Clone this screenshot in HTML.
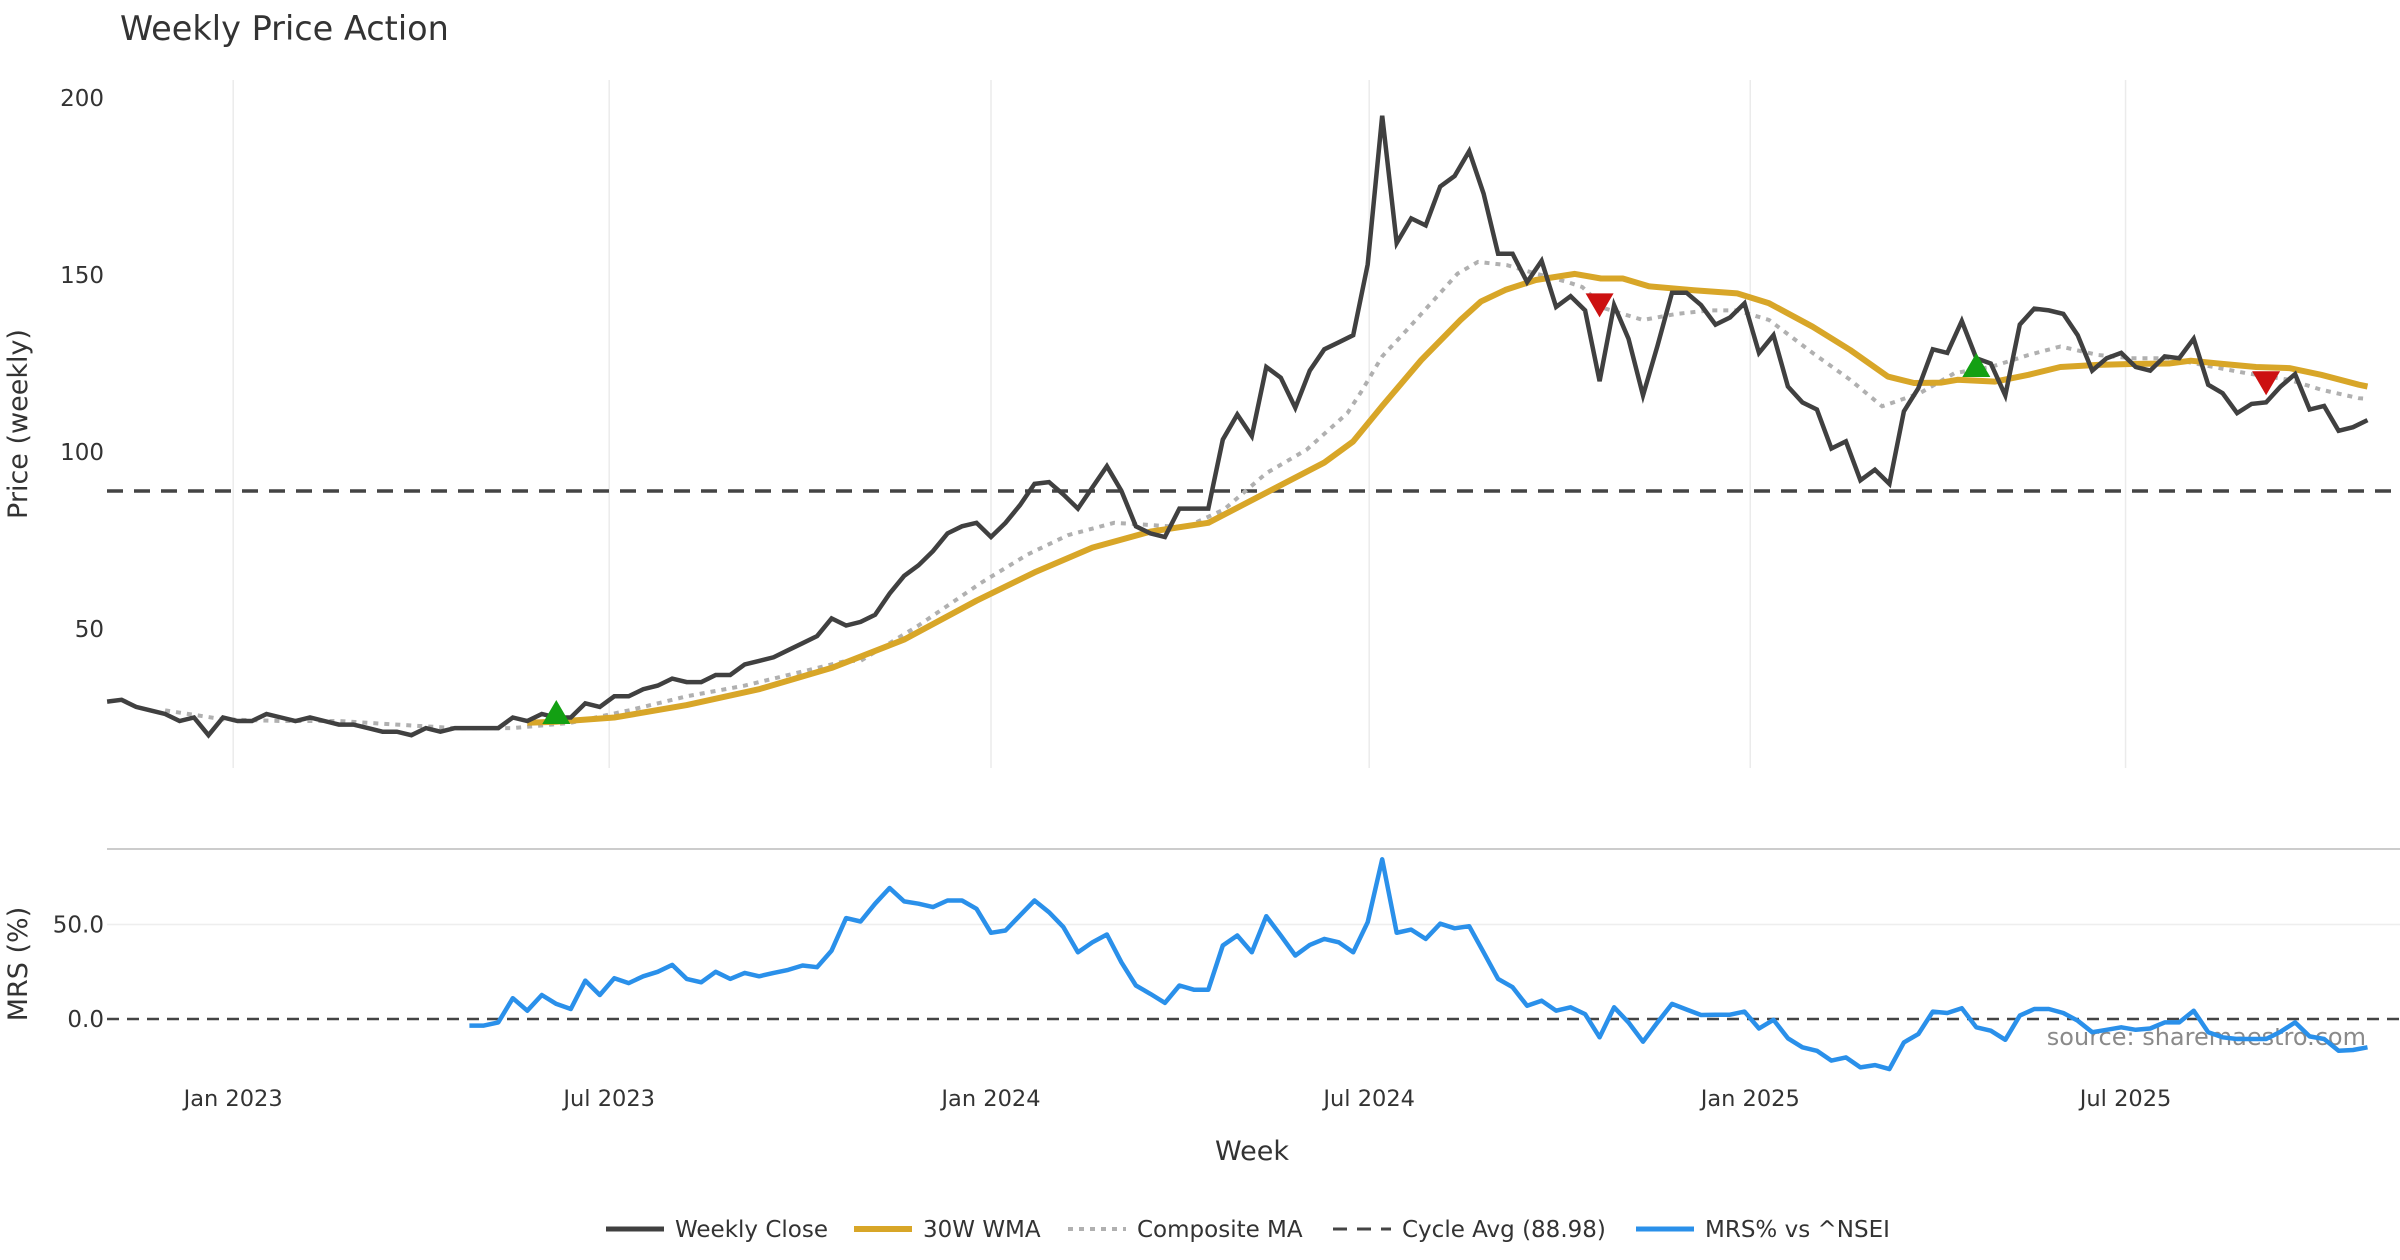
<!DOCTYPE html>
<html><head><meta charset="utf-8"><style>
html,body{margin:0;padding:0;background:#fff;}
svg{display:block;font-family:"DejaVu Sans","Liberation Sans",sans-serif;}
</style></head><body>
<svg id="chart" width="2400" height="1260" viewBox="0 0 2400 1260" xmlns="http://www.w3.org/2000/svg"></svg>
<script>
// ---- data ----
const closeValues=[29.5,30,28,27,26,24,25,20,25,24,24,26,25,24,25,24,23,23,22,21,21,20,22,21,22,22,22,22,25,24,26,25,25,29,28,31,31,33,34,36,35,35,37,37,40,41,42,44,46,48,53,51,52,54,60,65,68,72,77,79,80,76,80,85,91,91.5,88,84,90,96,89,79,77,76,84,84,84,103.5,110.6,104.5,124,121,112.5,123,129,131,133,153,195,159,166,164,175,178,185,173,156,156,148,154,141,144,140,120,141.5,132,116,130,145,145,141.5,136,138,142,128,133,118.5,114,112,101,103,92,95,91,111.5,118,129,128,137,126.5,125,116,136,140.5,140,139,133,123,126.5,128,124,123,127,126.5,132,119,116.6,111,113.6,114,118.5,122,112,113,106,107,109];
const wmaWeeks=[29,31,35,40,45,50,55,60,64,68,72,76,80,84,86,88,90.7,93.4,94.8,96.5,98.6,101.3,103.1,104.6,106.4,109.5,112.5,114.7,117.7,120.3,122.9,124.7,126.6,127.7,130.3,132.6,134.8,137.4,140,142.3,143.8,145.7,148.3,150.6,152.8,155.4,156];
const wmaValues=[23.5,23.8,25,28.5,33,39,47,58,66,73,77.5,80,88.5,97,103,113,126,137.3,142.5,145.8,148.6,150.3,149,149,146.8,145.7,144.8,142,135.4,128.8,121.3,119.5,119.6,120.4,119.9,121.8,124,124.6,124.9,125,125.8,125,124,123.7,121.8,119,118.5];
const compWeeks=[4,8,12,16,20,24,28,32,36,40,44,48,51,52,56,60.3,63.5,66.3,69.5,71.6,74.4,77.1,80,82.8,85.6,86.5,88,89.7,91.8,93.2,94.6,96.6,98.6,100.8,101.8,103.4,106,108.3,110.6,112.5,114.7,117.7,120.3,122.5,125.1,127.5,130,132.6,134.8,137.4,139.7,142.3,144.6,147.6,150.6,152.8,155.4,156];
const compValues=[27,24.5,24,24,23,22,22,23.5,27,31,34,38,41,41,51,63,71,76.5,80,79.5,78.7,83.8,94,100.7,111,116.7,127,134.5,144,150.4,153.7,152.8,150.4,148,146.6,140.5,137.3,139,140,140,137.3,128,120.4,112.9,116.6,122.3,124,127.4,129.8,127.4,126.5,126.5,124.6,122.3,120.4,117.6,115.2,115];
const cycleAvg=88.98;
const buyWeeks=[31,129];
const buyValues=[26,124];
const sellWeeks=[103,149];
const sellValues=[142,120];
const mrsStart=25;
const mrsValues=[-3.5,-3.5,-1.8,11,4.4,12.7,8,5.3,20.3,12.7,21.6,19,22.6,25,28.6,21.2,19.4,25,21.2,24.4,22.6,24.4,26,28.3,27.4,36.2,53.4,51.6,61,69.3,62.2,61,59.2,62.7,62.7,58.3,45.6,46.8,54.8,62.7,56.5,48.6,35.3,40.6,44.7,30,17.7,13.3,8.5,17.7,15.5,15.5,38.9,44.2,35.3,54.4,44.2,33.6,39.2,42.4,40.6,35.3,51.2,84.5,45.6,47.3,42.4,50.4,48,49.1,35.3,21.2,16.8,7,9.7,4.4,6.2,2.6,-9.7,6.2,-1.8,-12,-1.8,8,5,2.1,2.3,2.3,3.9,-5,-0.4,-10.2,-15,-16.8,-22,-20.3,-25.6,-24.4,-26.5,-12.4,-8,3.9,3.2,5.7,-4.4,-6.2,-11,1.8,5.3,5.3,3.2,-0.9,-7,-5.7,-4.4,-5.7,-5,-1.8,-1.8,4.4,-7,-9.7,-10.6,-10.6,-10.6,-6.7,-1.8,-9.2,-10.6,-16.8,-16.4,-15];
const priceTicks=[50,100,150,200];
const mrsTicks=[0,50];
const monthTickWeeks=[8.7,34.65,61,87.1,113.4,139.3];
const monthTickLabels=["Jan 2023","Jul 2023","Jan 2024","Jul 2024","Jan 2025","Jul 2025"];

// ---- scales ----
const NS="http://www.w3.org/2000/svg";
const svg=document.getElementById('chart');
const xW=w=>107.1+14.49*w;
const yP=v=>98+(200-v)*3.54;
const yM=v=>1019-v*1.89;
function el(tag,attrs,parent){const e=document.createElementNS(NS,tag);for(const k in attrs)e.setAttribute(k,attrs[k]);(parent||svg).appendChild(e);return e;}
function txt(s,attrs){const e=el('text',attrs);e.textContent=s;return e;}
function pathFrom(xs,ys){return xs.map((x,i)=>(i?'L':'M')+x.toFixed(1)+' '+ys[i].toFixed(1)).join(' ');}

let t=txt('Weekly Price Action',{x:120,y:40,'font-size':33.5,fill:'#333'});



monthTickWeeks.forEach((w,i)=>{
  const g=el('line',{x1:xW(w),x2:xW(w),y1:80,y2:768,stroke:'#ebebeb','stroke-width':1.5});
  
  
  const l=txt(monthTickLabels[i],{x:xW(w),y:1106,'font-size':22.5,fill:'#333','text-anchor':'middle'});
  
  
});
priceTicks.forEach(v=>{
  const l=txt(String(v),{x:104,y:yP(v)+8,'font-size':23,fill:'#333','text-anchor':'end'});
  
  
});
mrsTicks.forEach(v=>{
  if(v!==0){const g=el('line',{x1:107,x2:2400,y1:yM(v),y2:yM(v),stroke:'#eeeeee','stroke-width':1.5});
  
  }
  const l=txt(v.toFixed(1),{x:104,y:yM(v)+8,'font-size':23,fill:'#333','text-anchor':'end'});
  
  
});
let d=el('line',{x1:107,x2:2400,y1:849,y2:849,stroke:'#cccccc','stroke-width':2});



let ya=txt('Price (weekly)',{x:0,y:0,'font-size':27,fill:'#333','text-anchor':'middle',transform:'translate(27,424) rotate(-90)'});


let ym=txt('MRS (%)',{x:0,y:0,'font-size':27,fill:'#333','text-anchor':'middle',transform:'translate(27,964) rotate(-90)'});


let xa=txt('Week',{x:1252,y:1160,'font-size':27,fill:'#333','text-anchor':'middle'});



let ca=el('line',{x1:107,x2:2400,y1:yP(cycleAvg),y2:yP(cycleAvg),stroke:'#444','stroke-width':3.5,'stroke-dasharray':'16 11'});



let cp=el('path',{d:pathFrom(compWeeks.map(xW),compValues.map(yP)),fill:'none',stroke:'#b0b0b0','stroke-width':4,'stroke-dasharray':'5 6'});


let wp=el('path',{d:pathFrom(wmaWeeks.map(xW),wmaValues.map(yP)),fill:'none',stroke:'#d8a628','stroke-width':6,'stroke-linejoin':'round'});


let cl=el('path',{d:pathFrom(closeValues.map((v,i)=>xW(i)),closeValues.map(yP)),fill:'none',stroke:'#404040','stroke-width':4.5,'stroke-linejoin':'miter'});



buyWeeks.forEach((w,i)=>{
  const x=xW(w),y=yP(buyValues[i]);
  const p=el('polygon',{points:`${x-14},${y+10} ${x+14},${y+10} ${x},${y-14}`,fill:'#13a013'});
  
  
});
sellWeeks.forEach((w,i)=>{
  const x=xW(w),y=yP(sellValues[i]);
  const p=el('polygon',{points:`${x-14},${y-10} ${x+14},${y-10} ${x},${y+14}`,fill:'#cc1111'});
  
  
});

let z=el('line',{x1:107,x2:2400,y1:yM(0),y2:yM(0),stroke:'#444','stroke-width':2.5,'stroke-dasharray':'12 8'});


let src=txt('source: sharemaestro.com',{x:2366,y:1045,'font-size':24,fill:'#8a8a8a','text-anchor':'end'});


let mp=el('path',{d:pathFrom(mrsValues.map((v,i)=>xW(mrsStart+i)),mrsValues.map(yM)),fill:'none',stroke:'#2a90ea','stroke-width':4.5,'stroke-linejoin':'round'});



const legLabels=['Weekly Close','30W WMA','Composite MA','Cycle Avg (88.98)','MRS% vs ^NSEI'];
const legX=[606,854,1068,1333,1636];
const legStroke=['#404040','#d8a628','#b0b0b0','#444','#2a90ea'];
const legW=[5,6,4,3,5];
const legDash=['','','5 6','14 10',''];
legLabels.forEach((s,i)=>{
  const g=el('g',{});
  
  
  const a={x1:legX[i],x2:legX[i]+58,y1:1229,y2:1229,stroke:legStroke[i],'stroke-width':legW[i]};
  if(legDash[i])a['stroke-dasharray']=legDash[i];
  el('line',a,g);
  const tt=el('text',{x:legX[i]+69,y:1237,'font-size':23,fill:'#333'},g);
  tt.textContent=s;
});
</script>
</body></html>
